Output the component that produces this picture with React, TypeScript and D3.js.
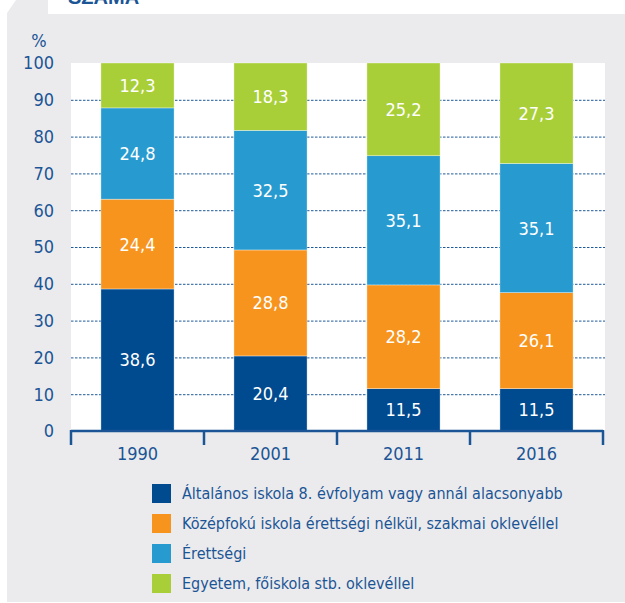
import React, { useEffect, useRef } from 'react';
import * as d3 from 'd3';

const years = ['1990', '2001', '2011', '2016'];
const seriesNames = [
  'Általános iskola 8. évfolyam vagy annál alacsonyabb',
  'Középfokú iskola érettségi nélkül, szakmai oklevéllel',
  'Érettségi',
  'Egyetem, főiskola stb. oklevéllel',
];
const altalanos = [38.6, 20.4, 11.5, 11.5];
const kozepfoku = [24.4, 28.8, 28.2, 26.1];
const erettsegi = [24.8, 32.5, 35.1, 35.1];
const egyetem = [12.3, 18.3, 25.2, 27.3];
const yTicks = [0, 10, 20, 30, 40, 50, 60, 70, 80, 90, 100];

const colors = ['#004a8f', '#f7941d', '#279bd0', '#a8cf38'];
const textBlue = '#1b5596';
const font = '"Liberation Sans Narrow", "DejaVu Sans Condensed", sans-serif';

const App: React.FC = () => {
  const ref = useRef<HTMLDivElement | null>(null);

  useEffect(() => {
    const width = 625;
    const height = 603;
    const left = 71;
    const right = 603;
    const top = 63;
    const bottom = 431;

    const svg = d3.select(ref.current)
      .append('svg')
      .attr('width', width)
      .attr('height', height)
      .style('display', 'block');

    svg.append('rect').attr('width', width).attr('height', height).attr('fill', '#ffffff');

    // title, only its lower edge shows in the crop
    svg.append('text')
      .attr('x', 68)
      .attr('y', 4)
      .attr('font-family', '"Liberation Sans", sans-serif')
      .attr('font-weight', 'bold')
      .attr('font-size', 20)
      .attr('fill', textBlue)
      .text('SZÁMA');

    // gray panel with the little tab in the corner
    svg.append('path')
      .attr('d', 'M7,602 L7,13 L16,0 L48,0 L48,14 L625,14 L625,602 Z')
      .attr('fill', '#ebebed');

    // white plot area
    svg.append('rect')
      .attr('x', left)
      .attr('y', top)
      .attr('width', 605 - left)
      .attr('height', bottom - top)
      .attr('fill', '#ffffff');

    const x = d3.scaleBand<string>().domain(years).range([left, right]).paddingInner(0.45).paddingOuter(0.225);
    const y = d3.scaleLinear().domain([0, 100]).range([bottom, top]);

    // dotted grid
    svg.append('g')
      .selectAll('line')
      .data(yTicks.filter(t => t > 0 && t < 100))
      .enter()
      .append('line')
      .attr('x1', left)
      .attr('x2', 605)
      .attr('y1', d => y(d) + 0.5)
      .attr('y2', d => y(d) + 0.5)
      .attr('stroke', '#1f5a9a')
      .attr('stroke-width', 1)
      .attr('stroke-dasharray', '2.5,1.5');

    const rows = years.map((yr, i) => ({
      year: yr,
      s0: altalanos[i],
      s1: kozepfoku[i],
      s2: erettsegi[i],
      s3: egyetem[i],
    }));
    const stack = d3.stack<any>().keys(['s0', 's1', 's2', 's3']);
    const layers = stack(rows);

    layers.forEach((layer, li) => {
      const g = svg.append('g');
      g.selectAll('rect')
        .data(layer)
        .enter()
        .append('rect')
        .attr('x', d => x(d.data.year) as number)
        .attr('width', x.bandwidth())
        .attr('y', d => y(Math.min(d[1], 100)))
        .attr('height', d => y(d[0]) - y(Math.min(d[1], 100)))
        .attr('fill', colors[li])
        .attr('stroke', 'rgba(255,255,255,0.6)')
        .attr('stroke-width', 0.6);

      g.selectAll('text')
        .data(layer)
        .enter()
        .append('text')
        .attr('x', d => (x(d.data.year) as number) + x.bandwidth() / 2)
        .attr('y', d => (y(d[0]) + y(Math.min(d[1], 100))) / 2)
        .attr('dy', '0.36em')
        .attr('text-anchor', 'middle')
        .attr('font-family', font)
        .attr('font-size', 18)
        .attr('fill', '#ffffff')
        .text(d => (d[1] - d[0]).toFixed(1).replace('.', ','));
    });

    // x axis line with ticks between categories
    const axis = svg.append('g').attr('stroke', textBlue).attr('stroke-width', 2.5).attr('fill', 'none');
    axis.append('line').attr('x1', left).attr('x2', right).attr('y1', bottom).attr('y2', bottom);
    const edges = years.map(yr => (x(yr) as number) - x.step() * x.paddingInner() / 2);
    edges.push(right);
    edges[0] = left;
    axis.selectAll('line.tick')
      .data(edges)
      .enter()
      .append('line')
      .attr('class', 'tick')
      .attr('x1', d => d)
      .attr('x2', d => d)
      .attr('y1', bottom - 1)
      .attr('y2', bottom + 14);

    svg.append('g')
      .selectAll('text')
      .data(years)
      .enter()
      .append('text')
      .attr('x', d => (x(d) as number) + x.bandwidth() / 2)
      .attr('y', 460)
      .attr('text-anchor', 'middle')
      .attr('font-family', font)
      .attr('font-size', 18)
      .attr('fill', textBlue)
      .text(d => d);

    // y tick labels
    svg.append('g')
      .selectAll('text')
      .data(yTicks)
      .enter()
      .append('text')
      .attr('x', 54)
      .attr('y', d => y(d))
      .attr('dy', '0.36em')
      .attr('text-anchor', 'end')
      .attr('font-family', font)
      .attr('font-size', 18)
      .attr('fill', textBlue)
      .text(d => d);

    svg.append('text')
      .attr('x', 39)
      .attr('y', 47)
      .attr('text-anchor', 'middle')
      .attr('font-family', font)
      .attr('font-size', 18)
      .attr('fill', textBlue)
      .text('%');

    // legend
    const legend = svg.append('g')
      .selectAll('g')
      .data(seriesNames)
      .enter()
      .append('g')
      .attr('transform', (_d, i) => `translate(152,${484 + i * 30})`);
    legend.append('rect')
      .attr('width', 19)
      .attr('height', 19)
      .attr('fill', (_d, i) => colors[i]);
    legend.append('text')
      .attr('x', 30)
      .attr('y', 9.5)
      .attr('dy', '0.36em')
      .attr('font-family', font)
      .attr('font-size', 16)
      .attr('textLength', null)
      .attr('fill', textBlue)
      .text(d => d);

    return () => {
      if (ref.current) {
        d3.select(ref.current).selectAll('*').remove();
      }
    };
  }, []);

  return <div ref={ref} style={{ position: 'absolute', left: 0, top: 0 }} />;
};

export default App;
